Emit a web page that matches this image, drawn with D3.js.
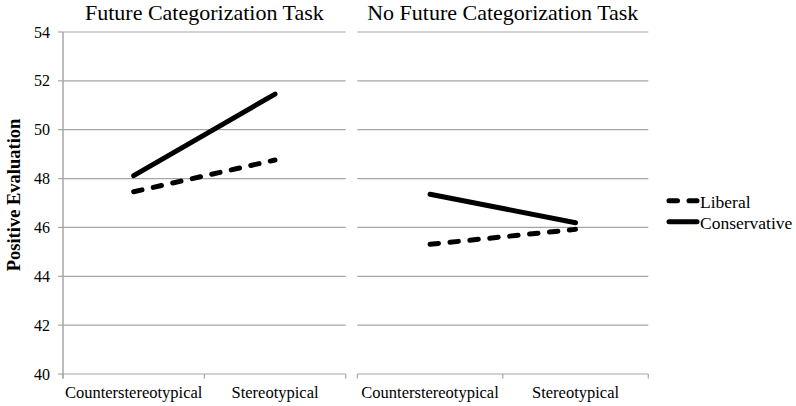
<!DOCTYPE html>
<html>
<head>
<meta charset="utf-8">
<script src="https://cdn.jsdelivr.net/npm/d3@7"></script>
<style>
  html, body { margin: 0; padding: 0; background: #fff; }
  svg { display: block; }
</style>
</head>
<body>
<svg id="chart" width="796" height="406"></svg>
<script>
const categories = ["Counterstereotypical", "Stereotypical"];
const panels = ["Future Categorization Task", "No Future Categorization Task"];
const seriesNames = ["Liberal", "Conservative"];
const liberalValues = [[47.46, 48.76], [45.31, 45.92]];
const conservativeValues = [[48.12, 51.46], [47.36, 46.19]];
const yTicks = [40, 42, 44, 46, 48, 50, 52, 54];
const yTitle = "Positive Evaluation";

const FONT = "'Times New Roman', Times, 'Liberation Serif', 'DejaVu Serif', serif";
const svg = d3.select("#chart");
const y = d3.scaleLinear().domain([40, 54]).range([374, 32]);
const panelRanges = [[63, 345.7], [357.3, 648.3]];
const gridColor = "#a6a6a6";
const dash = "8.5,11.5";

panels.forEach((title, p) => {
  const [x0, x1] = panelRanges[p];
  const x = d3.scalePoint().domain(categories).range([x0, x1]).padding(0.5);
  const g = svg.append("g");

  g.selectAll("line.grid").data(yTicks).join("line")
    .attr("x1", x0).attr("x2", x1)
    .attr("y1", d => y(d)).attr("y2", d => y(d))
    .attr("stroke", gridColor).attr("stroke-width", 1.2);

  const bounds = [x0, (x0 + x1) / 2, x1];
  g.selectAll("line.xt").data(bounds).join("line")
    .attr("x1", d => d).attr("x2", d => d)
    .attr("y1", y(40)).attr("y2", y(40) + 4.5)
    .attr("stroke", gridColor).attr("stroke-width", 1.2);

  g.selectAll("text.cat").data(categories).join("text")
    .attr("x", d => x(d)).attr("y", 398)
    .attr("text-anchor", "middle").attr("font-size", 16.5).attr("fill", "#000")
    .style("font-family", FONT)
    .text(d => d);

  g.append("text")
    .attr("x", (x0 + x1) / 2).attr("y", 20)
    .attr("text-anchor", "middle").attr("font-size", 22).attr("fill", "#000")
    .style("font-family", FONT)
    .text(title);

  const line = d3.line().x((d, i) => x(categories[i])).y(d => y(d));
  g.append("path").datum(liberalValues[p])
    .attr("d", line).attr("fill", "none").attr("stroke", "#000")
    .attr("stroke-width", 5).attr("stroke-linecap", "round")
    .attr("stroke-dasharray", dash);
  g.append("path").datum(conservativeValues[p])
    .attr("d", line).attr("fill", "none").attr("stroke", "#000")
    .attr("stroke-width", 5).attr("stroke-linecap", "round");
});

svg.append("line")
  .attr("x1", 63).attr("x2", 63).attr("y1", y(54)).attr("y2", y(40) + 4.5)
  .attr("stroke", gridColor).attr("stroke-width", 1.5);
svg.selectAll("line.yt").data(yTicks).join("line")
  .attr("x1", 58).attr("x2", 63)
  .attr("y1", d => y(d)).attr("y2", d => y(d))
  .attr("stroke", gridColor).attr("stroke-width", 1.2);
svg.selectAll("text.yl").data(yTicks).join("text")
  .attr("x", 50).attr("y", d => y(d) + 5.5)
  .attr("text-anchor", "end").attr("font-size", 16).attr("fill", "#000")
  .style("font-family", FONT)
  .text(d => d);

svg.append("text")
  .attr("transform", "translate(20,195) rotate(-90)")
  .attr("text-anchor", "middle").attr("font-size", 18.5).attr("font-weight", "bold")
  .attr("fill", "#000").style("font-family", FONT)
  .text(yTitle);

const legY = [200.7, 221.7];
seriesNames.forEach((name, i) => {
  svg.append("line")
    .attr("x1", 669).attr("x2", 697)
    .attr("y1", legY[i]).attr("y2", legY[i])
    .attr("stroke", "#000").attr("stroke-width", 5).attr("stroke-linecap", "round")
    .attr("stroke-dasharray", i === 0 ? dash : null);
  svg.append("text")
    .attr("x", 700).attr("y", legY[i] + 7)
    .attr("font-size", 17.5).attr("fill", "#000").style("font-family", FONT)
    .text(name);
});
</script>
</body>
</html>
